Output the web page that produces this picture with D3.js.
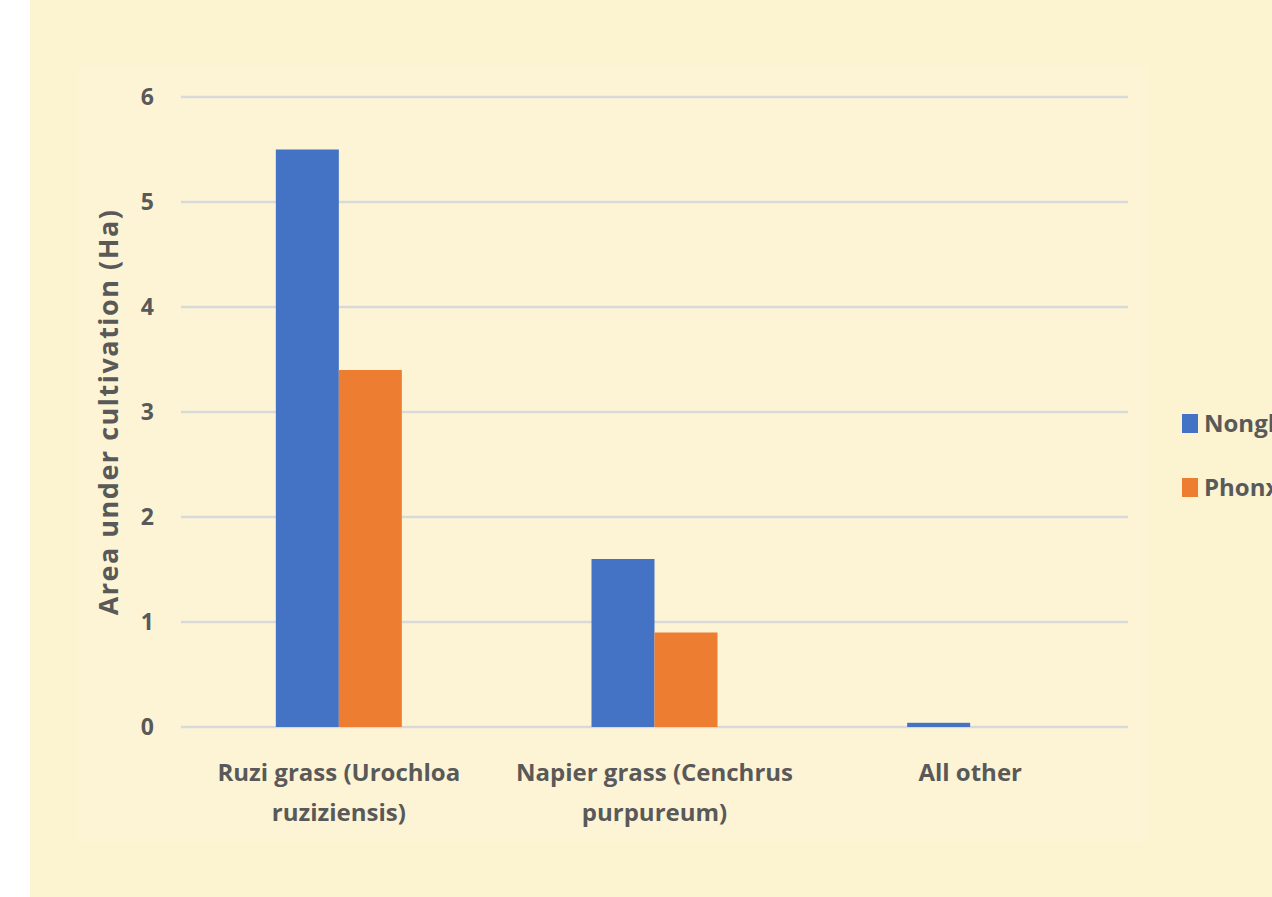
<!DOCTYPE html>
<html>
<head>
<meta charset="UTF-8">
<title>Area under cultivation</title>
<script src="https://d3js.org/d3.v7.min.js"></script>
<style>
  body { margin: 0; background: #ffffff; }
  svg text { font-family: "Open Sans", Lato, sans-serif; font-weight: 700; fill: #595959; }
</style>
</head>
<body>
<div id="chart"></div>
<script>
// data
var categories = [["Ruzi grass (Urochloa", "ruziziensis)"], ["Napier grass (Cenchrus", "purpureum)"], ["All other"]];
var seriesNames = ["Nonghet", "Phonxay"];
var nonghetValues = [5.5, 1.6, 0.04];
var phonxayValues = [3.4, 0.9, 0];
var yTicks = [0, 1, 2, 3, 4, 5, 6];
var colors = ["#4472c4", "#ed7d31"];

var W = 1272, H = 897;
var margin = {top: 97, left: 181, right: 144, bottom: 170};
var width = W - margin.left - margin.right,
    height = H - margin.top - margin.bottom;

var svg = d3.select("#chart").append("svg")
    .attr("width", W)
    .attr("height", H);

// backgrounds
svg.append("rect").attr("x", 30).attr("y", 0).attr("width", W - 30).attr("height", H).attr("fill", "#fcf3d1");
svg.append("rect").attr("x", 78).attr("y", 66).attr("width", 1070).attr("height", 776).attr("fill", "#fdf4d5");

var g = svg.append("g").attr("transform", "translate(" + margin.left + "," + margin.top + ")");

var x = d3.scaleBand().domain(d3.range(categories.length)).range([0, width]).padding(0);
var y = d3.scaleLinear().domain([0, 6]).range([height, 0]);
var xs = d3.scaleBand().domain([0, 1]).range([0, 126]);

// gridlines
g.selectAll(".grid").data(yTicks).enter().append("line")
    .attr("x1", 0).attr("x2", width)
    .attr("y1", function (d) { return y(d); })
    .attr("y2", function (d) { return y(d); })
    .attr("stroke", "#d9d9d9").attr("stroke-width", 2.5);

// y tick labels
g.selectAll(".ytick").data(yTicks).enter().append("text")
    .attr("x", -27)
    .attr("y", function (d) { return y(d); })
    .attr("dy", "0.36em")
    .attr("text-anchor", "end")
    .style("font-size", "23px")
    .text(function (d) { return d; });

// bars
var rows = categories.map(function (c, i) { return [nonghetValues[i], phonxayValues[i]]; });
var groups = g.selectAll(".cat").data(rows).enter().append("g")
    .attr("transform", function (d, i) { return "translate(" + (x(i) + x.bandwidth() / 2 - 63) + ",0)"; });
groups.selectAll("rect").data(function (d) { return d; }).enter().append("rect")
    .attr("x", function (d, j) { return xs(j); })
    .attr("y", function (d) { return y(d); })
    .attr("width", xs.bandwidth())
    .attr("height", function (d) { return height - y(d); })
    .attr("fill", function (d, j) { return colors[j]; });

// category labels
var labels = g.selectAll(".xlab").data(categories).enter().append("text")
    .attr("text-anchor", "middle")
    .style("font-size", "24px")
    .attr("transform", function (d, i) { return "translate(" + (x(i) + x.bandwidth() / 2) + "," + (height + 54) + ")"; });
labels.selectAll("tspan").data(function (d) { return d; }).enter().append("tspan")
    .attr("x", 0)
    .attr("dy", function (d, k) { return k === 0 ? 0 : 40; })
    .text(function (d) { return d; });

// y axis title
svg.append("text")
    .attr("transform", "translate(118," + 412 + ") rotate(-90)")
    .attr("text-anchor", "middle")
    .style("font-size", "27px")
    .style("letter-spacing", "1.5px")
    .text("Area under cultivation (Ha)");

// legend
var legend = svg.selectAll(".leg").data(seriesNames).enter().append("g")
    .attr("transform", function (d, i) { return "translate(1182," + (414 + i * 64) + ")"; });
legend.append("rect").attr("width", 16).attr("height", 19).attr("fill", function (d, i) { return colors[i]; });
legend.append("text").attr("x", 22).attr("y", 18)
    .style("font-size", "24px")
    .text(function (d) { return d; });
</script>
</body>
</html>
